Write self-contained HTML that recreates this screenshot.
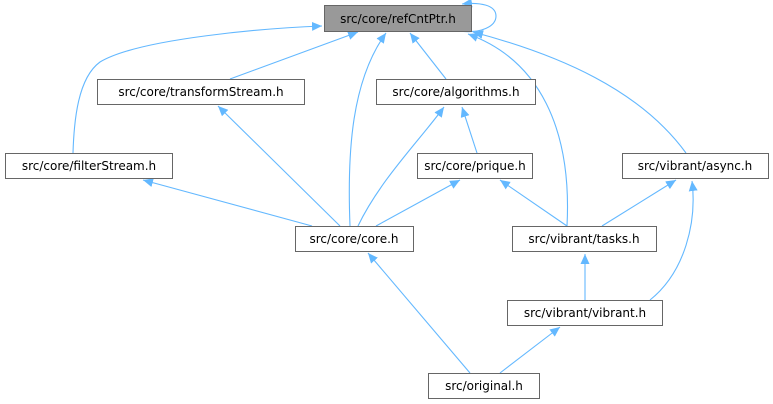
<!DOCTYPE html>
<html><head><meta charset="utf-8"><style>
html,body{margin:0;padding:0;background:#fff;}
svg{display:block;}
text{font-family:"DejaVu Sans","Liberation Sans",sans-serif;font-size:12px;fill:#000;}
</style></head><body>
<svg width="773" height="404" viewBox="0 0 773 404" xmlns="http://www.w3.org/2000/svg">
<defs>
<marker id="a" markerWidth="11" markerHeight="9" refX="10" refY="4.5" orient="auto" markerUnits="userSpaceOnUse">
<path d="M0,0 L10,4.5 L0,9 z" fill="#63b8ff"/>
</marker>
</defs>
<g fill="none" stroke="#63b8ff" stroke-width="1.1" marker-end="url(#a)">
<path d="M458,31 C482,34 496,26 496,16 C496,5 480,2 462,4"/>
<path d="M230,79 L358,32"/>
<path d="M73,153 C74,120 78,78 100,62 C140,38 270,28 322,26"/>
<path d="M350,226 C347,150 352,80 386,33"/>
<path d="M446,79 L410,33"/>
<path d="M567,226 C572,130 540,60 468,34"/>
<path d="M686,153 C640,90 560,55 473,32"/>
<path d="M340,226 L218,106"/>
<path d="M358,226 C380,180 420,140 444,107"/>
<path d="M312,226 L143,180"/>
<path d="M376,226 L460,180"/>
<path d="M477,153 L462,107"/>
<path d="M567,226 L500,180"/>
<path d="M602,226 L676,180"/>
<path d="M585,300 L585,254"/>
<path d="M650,300 C685,272 697,222 692,181"/>
<path d="M470,373 L368,253"/>
<path d="M500,373 L560,327"/>
</g>
<g stroke="#666" stroke-width="1">
<rect x="324.5" y="5.5" width="147" height="26" fill="#999"/>
<rect x="97.5" y="79.5" width="207" height="25" fill="#fff"/>
<rect x="376.5" y="79.5" width="159" height="25" fill="#fff"/>
<rect x="5.5" y="153.5" width="167" height="25" fill="#fff"/>
<rect x="417.5" y="153.5" width="115" height="25" fill="#fff"/>
<rect x="622.5" y="153.5" width="146" height="25" fill="#fff"/>
<rect x="295.5" y="226.5" width="118" height="25" fill="#fff"/>
<rect x="512.5" y="226.5" width="144" height="25" fill="#fff"/>
<rect x="507.5" y="300.5" width="155" height="25" fill="#fff"/>
<rect x="428.5" y="373.5" width="111" height="25" fill="#fff"/>
</g>
<g text-anchor="middle">
<text x="398" y="23">src/core/refCntPtr.h</text>
<text x="201" y="96">src/core/transformStream.h</text>
<text x="456" y="96">src/core/algorithms.h</text>
<text x="89" y="170">src/core/filterStream.h</text>
<text x="475" y="170">src/core/prique.h</text>
<text x="695" y="170">src/vibrant/async.h</text>
<text x="354" y="243">src/core/core.h</text>
<text x="584" y="243">src/vibrant/tasks.h</text>
<text x="585" y="317">src/vibrant/vibrant.h</text>
<text x="484" y="390">src/original.h</text>
</g>
</svg>
</body></html>
